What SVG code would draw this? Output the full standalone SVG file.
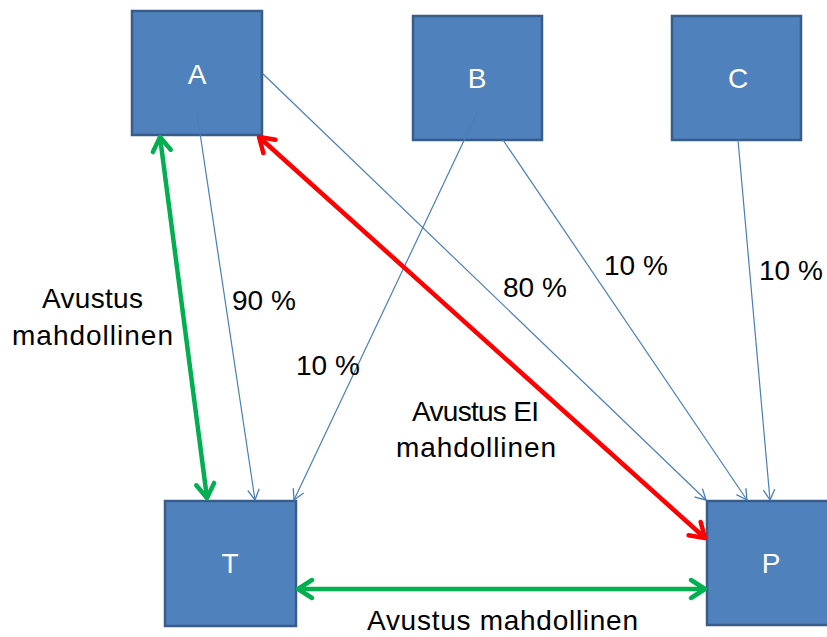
<svg xmlns="http://www.w3.org/2000/svg" width="827" height="637" viewBox="0 0 827 637">
<style>
.box{fill:#4f81bd;stroke:#385d8a;stroke-width:2.5}
.nl{font-family:"Liberation Sans",Arial,sans-serif;font-size:28px;fill:#ffffff;text-anchor:middle}
.lb{font-family:"Liberation Sans",Arial,sans-serif;font-size:28px;fill:#000000}
.thin{fill:none;stroke:#4a7ebb;stroke-width:1.2}
.green{fill:none;stroke:#00b050;stroke-width:4.5}
.red{fill:none;stroke:#ff0000;stroke-width:4.5}
</style>
<defs>
<marker id="mb" markerUnits="userSpaceOnUse" markerWidth="20" markerHeight="20" refX="0" refY="0" orient="auto" overflow="visible">
<path d="M-10,-5.5 L0,0 L-10,5.5" fill="none" stroke="#4a7ebb" stroke-width="1.3" stroke-linejoin="round" stroke-linecap="round"/>
</marker>
<marker id="mg" markerUnits="userSpaceOnUse" markerWidth="30" markerHeight="30" refX="0" refY="0" orient="auto-start-reverse" overflow="visible">
<path d="M-14,-9 L0,0 L-14,9" fill="none" stroke="#00b050" stroke-width="4.5" stroke-linejoin="round" stroke-linecap="round"/>
</marker>
<marker id="mr" markerUnits="userSpaceOnUse" markerWidth="30" markerHeight="30" refX="0" refY="0" orient="auto-start-reverse" overflow="visible">
<path d="M-14,-9 L0,0 L-14,9" fill="none" stroke="#ff0000" stroke-width="4.5" stroke-linejoin="round" stroke-linecap="round"/>
</marker>
</defs>
<g id="node-A"><rect class="box" x="132" y="11" width="130" height="124"/><text class="nl" x="197" y="84">A</text></g>
<g id="node-B"><rect class="box" x="413" y="16" width="129" height="124"/><text class="nl" x="477" y="88">B</text></g>
<g id="node-C"><rect class="box" x="672" y="16" width="129" height="124"/><text class="nl" x="738" y="88">C</text></g>
<g id="node-T"><rect class="box" x="165" y="501" width="131" height="125"/><text class="nl" x="230" y="573">T</text></g>
<g id="node-P"><rect class="box" x="707" y="501" width="132" height="124"/><text class="nl" x="771" y="573">P</text></g>
<g id="connectors">
<line class="thin" x1="197" y1="113" x2="255" y2="500" marker-end="url(#mb)"/>
<line class="thin" x1="477" y1="113" x2="294" y2="500" marker-end="url(#mb)"/>
<line class="thin" x1="263" y1="74" x2="706" y2="500" marker-end="url(#mb)"/>
<line class="thin" x1="503" y1="140" x2="747" y2="500" marker-end="url(#mb)"/>
<line class="thin" x1="738" y1="140" x2="770" y2="500" marker-end="url(#mb)"/>
<line class="green" x1="160" y1="137" x2="207" y2="498" marker-start="url(#mg)" marker-end="url(#mg)"/>
<line class="red" x1="259" y1="137" x2="705" y2="538" marker-start="url(#mr)" marker-end="url(#mr)"/>
<line class="green" x1="298" y1="589" x2="705" y2="589" marker-start="url(#mg)" marker-end="url(#mg)"/>
</g>
<g id="labels">
<text class="lb" x="92.5" y="308" text-anchor="middle" textLength="101">Avustus</text>
<text class="lb" x="92.5" y="345" text-anchor="middle" textLength="161">mahdollinen</text>
<text class="lb" x="232" y="310">90 %</text>
<text class="lb" x="296" y="375">10 %</text>
<text class="lb" x="503" y="297">80 %</text>
<text class="lb" x="604" y="275">10 %</text>
<text class="lb" x="759" y="280">10 %</text>
<text class="lb" x="475.5" y="421" text-anchor="middle" textLength="127">Avustus EI</text>
<text class="lb" x="476" y="457" text-anchor="middle" textLength="160">mahdollinen</text>
<text class="lb" x="502.5" y="630" text-anchor="middle" textLength="271">Avustus mahdollinen</text>
</g>
</svg>
